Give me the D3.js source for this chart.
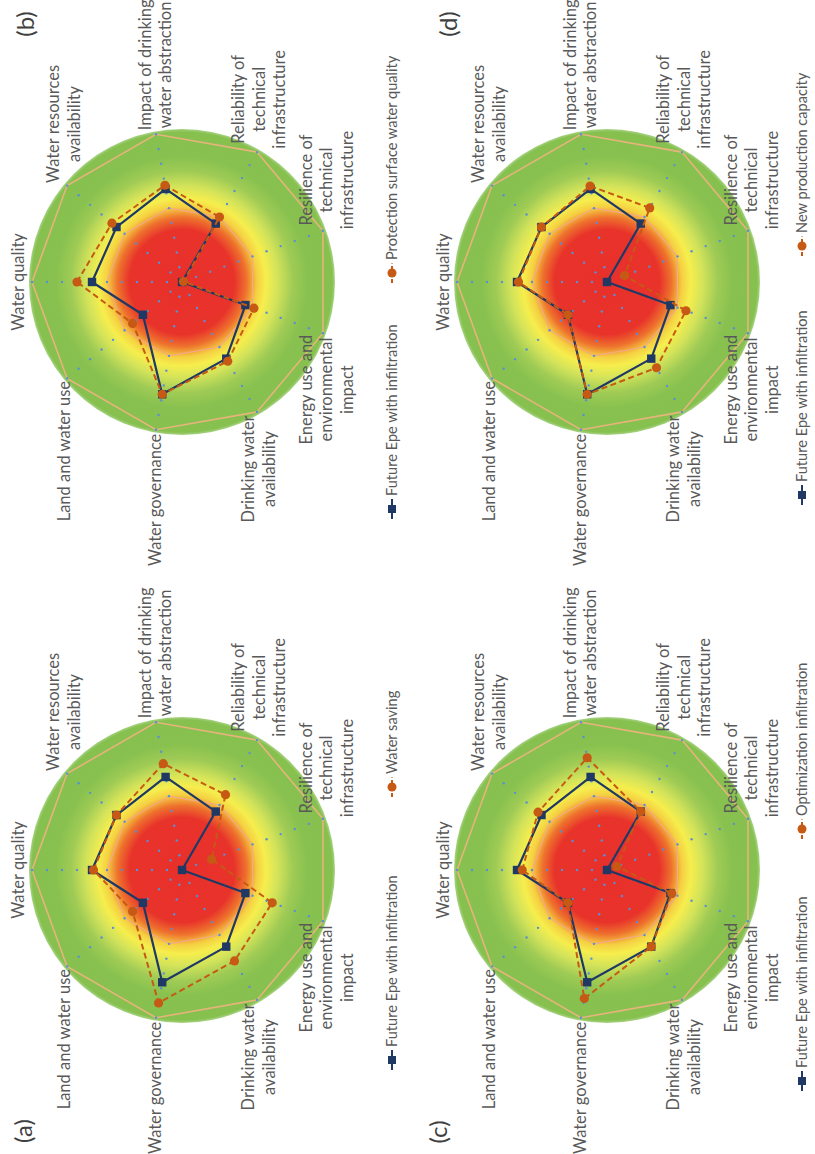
<!DOCTYPE html>
<html>
<head>
<meta charset="utf-8">
<script src="https://cdn.jsdelivr.net/npm/d3@7"></script>
<style>
  html, body { margin: 0; padding: 0; background: #fff; }
  svg { display: block; }
  text { font-family: Lato, "Open Sans", sans-serif; fill: #595959; }
</style>
</head>
<body>
<div id="chart"></div>
<script>
// axis labels, one entry per spoke (clockwise from the top), split into lines
const axisLabels = [
  ["Water quality"],
  ["Water resources", "availability"],
  ["Impact of drinking", "water abstraction"],
  ["Reliability of", "technical", "infrastructure"],
  ["Resilience of", "technical", "infrastructure"],
  ["Energy use and", "environmental", "impact"],
  ["Drinking water", "availability"],
  ["Water governance"],
  ["Land and water use"]
];

const panelLetters = ["(a)", "(b)", "(c)", "(d)"];

const baseName = "Future Epe with infiltration";
const baseValues = [6.0, 5.7, 6.3, 4.5, 0, 4.5, 5.9, 7.6, 3.4];

const scenarioNames = [
  "Water saving",
  "Protection surface water quality",
  "Optimization infiltration",
  "New production capacity"
];
const waterSaving = [5.9, 5.7, 7.2, 5.8, 2.1, 6.4, 7.0, 9.0, 4.3];
const protectionSurfaceWater = [7.0, 6.1, 6.55, 5.0, 0.1, 5.1, 6.1, 7.6, 4.3];
const optimizationInfiltration = [5.65, 6.0, 7.6, 4.5, 0.7, 4.6, 5.9, 8.7, 3.4];
const newProductionCapacity = [5.9, 5.7, 6.5, 5.7, 1.25, 5.6, 6.6, 7.6, 3.4];
const scenarioValues = [waterSaving, protectionSurfaceWater, optimizationInfiltration, newProductionCapacity];

const scaleMax = 10;
const gridLevels = [5, 10];
const tickLevels = d3.range(1, 11);

function init() {
  // the figure is drawn landscape and turned a quarter turn counter-clockwise
  const W = 1154, H = 815, R = 150, LH = 20.5;
  const layout = [
    { cx: 284, cy: 182, letterX: -261, letterY: -150, legY: 210, legend: [-200, 73] },
    { cx: 872, cy: 182, letterX: 258, letterY: -148, legY: 210, legend: [-237, -1] },
    { cx: 284, cy: 607, letterX: -262, letterY: -160, legY: 195, legend: [-221, 31] },
    { cx: 872, cy: 607, letterX: 258, letterY: -150, legY: 195, legend: [-223, 26] }
  ];
  const navy = "#1f3864", orange = "#c65a14";

  const svg = d3
    .select("#chart")
    .append("svg")
    .attr("width", H)
    .attr("height", W);

  const defs = svg.append("defs");
  const grad = defs.append("radialGradient").attr("id", "bg");
  const edge = 1.02;
  [
    [0, "#e8302b"],
    [0.35, "#e8332b"],
    [0.43, "#ee722d"],
    [0.5, "#f5cf42"],
    [0.56, "#f6ee4d"],
    [0.64, "#d3e35a"],
    [0.74, "#9fcb55"],
    [0.84, "#88c14f"],
    [1.0, "#86c04e"]
  ].forEach(([o, c]) => grad.append("stop").attr("offset", o / edge).attr("stop-color", c));
  grad.append("stop").attr("offset", 1).attr("stop-color", "#a9d385");

  const root = svg.append("g").attr("transform", `translate(0,${W}) rotate(-90)`);

  const r = d3.scaleLinear().domain([0, scaleMax]).range([0, R]);
  const angle = (i) => (i * 2 * Math.PI) / axisLabels.length;
  const pt = (i, v) => [Math.sin(angle(i)) * r(v), -Math.cos(angle(i)) * r(v)];

  const radial = d3
    .lineRadial()
    .angle((d, i) => angle(i))
    .radius((d) => r(d))
    .curve(d3.curveLinearClosed);

  layout.forEach((lay, p) => {
    const g = root.append("g").attr("transform", `translate(${lay.cx},${lay.cy})`);

    g.append("circle").attr("r", R * edge).attr("fill", "url(#bg)");

    // grid polygons
    gridLevels.forEach((lv) => {
      g.append("path")
        .attr("d", radial(axisLabels.map(() => lv)))
        .attr("fill", "none")
        .attr("stroke", lv === scaleMax ? "#e6b47c" : "#f3a98a")
        .attr("stroke-width", lv === scaleMax ? 1.6 : 1.1);
    });

    // tick dots along each spoke
    axisLabels.forEach((d, i) => {
      g.append("g")
        .selectAll("circle")
        .data(tickLevels)
        .join("circle")
        .attr("cx", (v) => pt(i, v)[0])
        .attr("cy", (v) => pt(i, v)[1])
        .attr("r", 1.2)
        .attr("fill", "#5b8fd3");
    });

    // base series
    g.append("path")
      .attr("d", radial(baseValues))
      .attr("fill", "none")
      .attr("stroke", navy)
      .attr("stroke-width", 2.2)
      .attr("stroke-linejoin", "round");
    g.append("g")
      .selectAll("rect")
      .data(baseValues)
      .join("rect")
      .attr("x", (v, i) => pt(i, v)[0] - 4.2)
      .attr("y", (v, i) => pt(i, v)[1] - 4.2)
      .attr("width", 8.4)
      .attr("height", 8.4)
      .attr("fill", navy);

    // scenario series
    const sv = scenarioValues[p];
    g.append("path")
      .attr("d", radial(sv))
      .attr("fill", "none")
      .attr("stroke", orange)
      .attr("stroke-width", 2)
      .attr("stroke-dasharray", "6,3.5");
    g.append("g")
      .selectAll("circle")
      .data(sv)
      .join("circle")
      .attr("cx", (v, i) => pt(i, v)[0])
      .attr("cy", (v, i) => pt(i, v)[1])
      .attr("r", 4.6)
      .attr("fill", orange);

    // axis labels
    axisLabels.forEach((lines, i) => {
      const a = angle(i);
      const px = Math.sin(a) * (R + 4),
        py = -Math.cos(a) * (R + 4);
      const texts = lines.map((s) =>
        g.append("text").attr("font-size", 16.5).attr("text-anchor", "middle").text(s)
      );
      const bw = d3.max(texts, (t) => t.node().getComputedTextLength());
      let x0 = px;
      if (i > 0) x0 = a < Math.PI ? px + bw / 2 : px - bw / 2;
      const n = lines.length;
      texts.forEach((t, k) => {
        const y = i === 0 ? py - 4 - (n - 1 - k) * LH : py + (k - (n - 1) / 2) * LH + 5.5;
        t.attr("x", x0).attr("y", y);
      });
    });

    // panel letter
    g.append("text")
      .attr("x", lay.letterX)
      .attr("y", lay.letterY)
      .attr("text-anchor", "middle")
      .attr("font-size", 24)
      .style("fill", "#404040")
      .text(panelLetters[p]);

    // legend
    [
      { name: baseName, color: navy, dash: null, square: true },
      { name: scenarioNames[p], color: orange, dash: "4,2.5", square: false }
    ].forEach((e, k) => {
      const x0 = lay.legend[k];
      const lg = g.append("g").attr("transform", `translate(${x0},${lay.legY})`);
      lg.append("line")
        .attr("x1", 0)
        .attr("x2", 20)
        .attr("stroke", e.color)
        .attr("stroke-width", 2)
        .attr("stroke-dasharray", e.dash);
      if (e.square) {
        lg.append("rect").attr("x", 6).attr("y", -4).attr("width", 8).attr("height", 8).attr("fill", e.color);
      } else {
        lg.append("circle").attr("cx", 10).attr("r", 4.5).attr("fill", e.color);
      }
      lg.append("text").attr("x", 23).attr("y", 5).attr("font-size", 14.6).text(e.name);
    });
  });
}

window.addEventListener("load", init);
</script>
</body>
</html>
